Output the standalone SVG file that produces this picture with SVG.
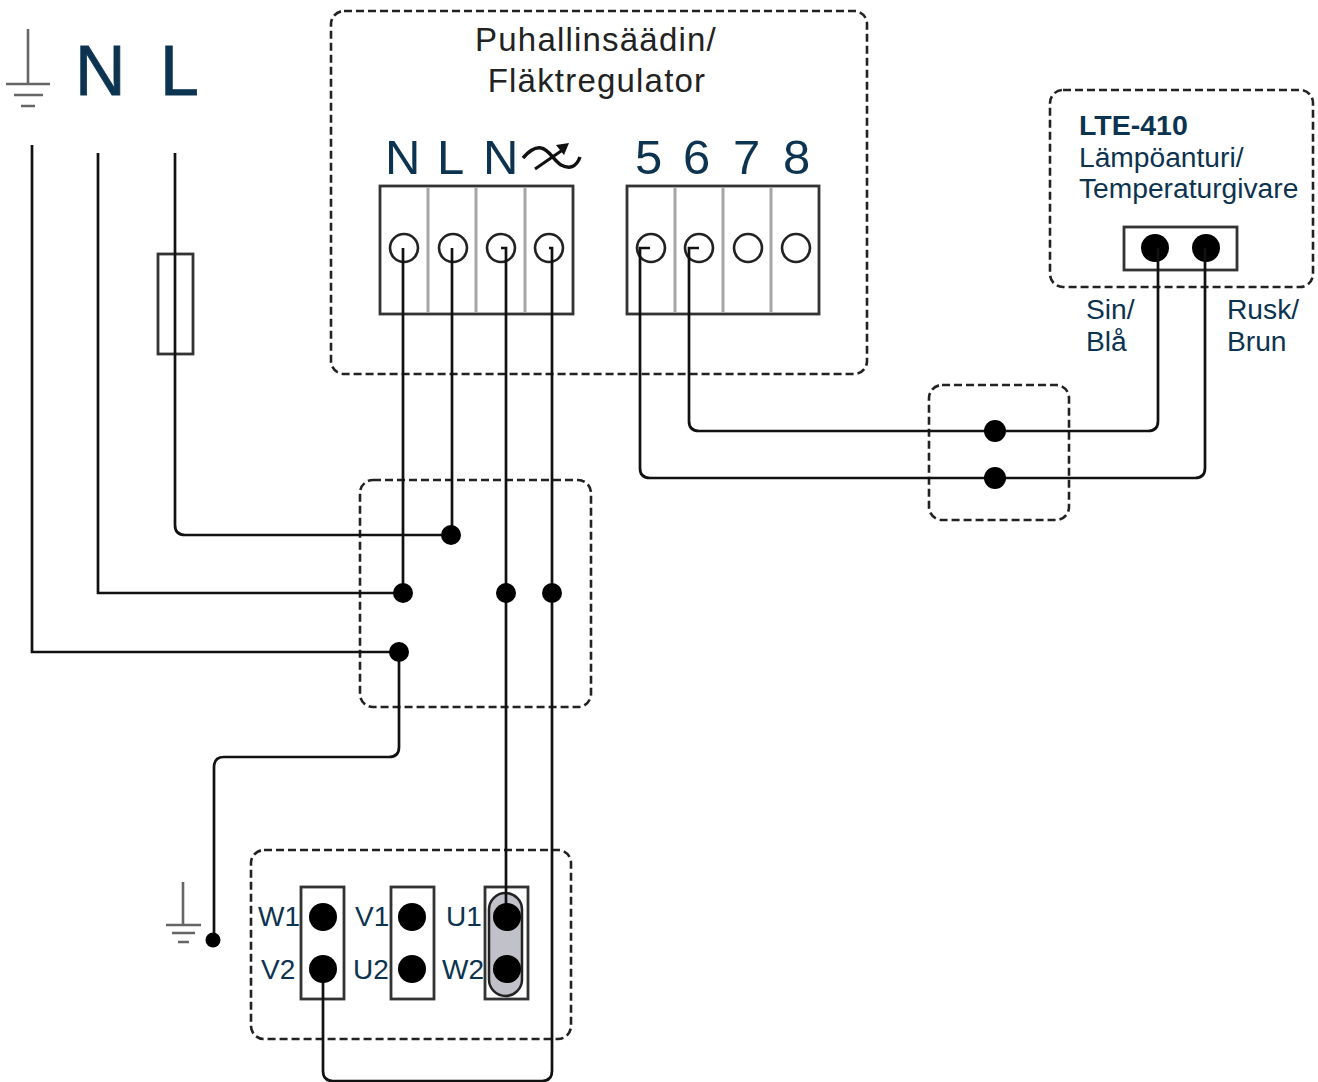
<svg xmlns="http://www.w3.org/2000/svg" width="1318" height="1082" viewBox="0 0 1318 1082">
<style>
text{font-family:"Liberation Sans",Arial,sans-serif;fill:#0c3350}
.big{font-size:70px;stroke:#0c3350;stroke-width:.8px}.t{font-size:49px}.h{font-size:33px;letter-spacing:1.200px;fill:#222}.s{font-size:28.200px}.m{font-size:28px}
.dash{fill:none;stroke:#222;stroke-width:2.600;stroke-dasharray:8 4}
.box{fill:#fff;stroke:#333;stroke-width:2.800}
.div{stroke:#a6a6a6;stroke-width:3}
.ring{fill:none;stroke:#222;stroke-width:2.600}
.gnd{stroke:#666;stroke-width:2.600;fill:none}
.w{fill:none;stroke:#111;stroke-width:2.700}
.d{fill:#000}
</style>
<g id="mains-ground" class="gnd"><path d="M28 29V84M6 84H50M14 95H43M21 106H35"/></g>
<g id="mains-labels"><text class="big" x="75" y="95">N</text><text class="big" x="160" y="95">L</text></g>
<g id="controller">
<rect class="dash" x="331" y="11" width="536" height="363" rx="13"/>
<text class="h" x="596" y="51" text-anchor="middle">Puhallinsäädin/</text>
<text class="h" x="597" y="92" text-anchor="middle">Fläktregulator</text>
<text class="t" x="385" y="174">N</text><text class="t" x="437" y="174">L</text><text class="t" x="483" y="174">N</text>
<path d="M523 158C530 150 536 147 541 148C549 149 553 160 561 165C569 169 576 168 580 157" fill="none" stroke="#111" stroke-width="3.500"/>
<path d="M535 169L564 149" fill="none" stroke="#111" stroke-width="3"/><path d="M569 143L556 145L564 155Z" fill="#111"/>
<text class="t" x="635" y="174">5</text><text class="t" x="683" y="174">6</text><text class="t" x="733" y="174">7</text><text class="t" x="783" y="174">8</text>
<rect class="box" x="380" y="186" width="193" height="128"/>
<path class="div" d="M428 187V313M476 187V313M525 187V313"/>
<rect class="box" x="627" y="186" width="192" height="128"/>
<path class="div" d="M675 187V313M723 187V313M771 187V313"/>
<circle class="ring" cx="404" cy="248" r="14"/><circle class="ring" cx="453" cy="248" r="14"/><circle class="ring" cx="501" cy="248" r="14"/><circle class="ring" cx="549" cy="248" r="14"/>
<circle class="ring" cx="651" cy="248" r="14"/><circle class="ring" cx="699" cy="248" r="14"/><circle class="ring" cx="748" cy="248" r="14"/><circle class="ring" cx="796" cy="248" r="14"/>
</g>
<g id="fuse"><rect x="158" y="254" width="35" height="100" fill="none" stroke="#333" stroke-width="2.800"/></g>
<g id="sensor">
<rect class="dash" x="1050" y="90" width="263" height="197" rx="13"/>
<text x="1079" y="135" font-size="28.500" font-weight="bold">LTE-410</text>
<text class="s" x="1079" y="167">Lämpöanturi/</text>
<text class="s" x="1079" y="198">Temperaturgivare</text>
<rect class="box" x="1124" y="227" width="113" height="43"/>
<circle class="d" cx="1155" cy="248" r="14"/><circle class="d" cx="1206" cy="248" r="14"/>
<text class="s" x="1086" y="319">Sin/</text><text class="s" x="1086" y="351">Blå</text>
<text class="s" x="1227" y="319">Rusk/</text><text class="s" x="1227" y="351">Brun</text>
</g>
<g id="junction-sensor"><rect class="dash" x="929" y="385" width="140" height="135" rx="13"/></g>
<g id="junction-main"><rect class="dash" x="360" y="480" width="231" height="227" rx="13"/></g>
<g id="motor">
<rect class="dash" x="251" y="850" width="320" height="189" rx="13"/>
<rect class="box" x="301" y="887" width="43" height="112"/><rect class="box" x="391" y="887" width="43" height="112"/><rect class="box" x="485" y="887" width="43" height="112"/>
<rect x="489" y="893" width="33" height="103" rx="16.500" fill="#c0c1c9" stroke="#222" stroke-width="2.500"/>
<text class="m" x="258" y="926">W1</text><text class="m" x="261" y="979">V2</text>
<text class="m" x="355" y="926">V1</text><text class="m" x="353" y="979">U2</text>
<text class="m" x="446" y="926">U1</text><text class="m" x="442" y="979">W2</text>
</g>
<g id="motor-ground" class="gnd"><path d="M183 882V925M166 925H201M172 933H195M178 942H189"/></g>
<g id="connectors" class="w">
<path d="M32 145V652H399"/>
<path d="M98 153V593H403"/>
<path d="M175 153V525Q175 535 185 535H451"/>
<path d="M403 248V593"/>
<path d="M452 248V535"/>
<path d="M501 248H506V917"/>
<path d="M549 248H552V1071Q552 1081 542 1081H333Q323 1081 323 1071V969"/>
<path d="M650 248H640V468Q640 478 650 478H1195Q1205 478 1205 468V248"/>
<path d="M699 248H689V421Q689 431 699 431H1148Q1158 431 1158 421V248"/>
<path d="M399 652V747Q399 757 389 757H224Q214 757 214 767V940"/>
</g>
<g id="terminals" class="d">
<circle cx="451" cy="535" r="10"/><circle cx="403" cy="593" r="10"/><circle cx="506" cy="593" r="10"/><circle cx="552" cy="593" r="10"/><circle cx="399" cy="652" r="10"/>
<circle cx="995" cy="431" r="11"/><circle cx="995" cy="478" r="11"/><circle cx="213" cy="940" r="7.500"/>
<circle cx="323" cy="917" r="14"/><circle cx="323" cy="969" r="14"/><circle cx="412" cy="917" r="14"/><circle cx="412" cy="969" r="14"/><circle cx="507" cy="917" r="14"/><circle cx="507" cy="969" r="14"/>
</g>
</svg>
